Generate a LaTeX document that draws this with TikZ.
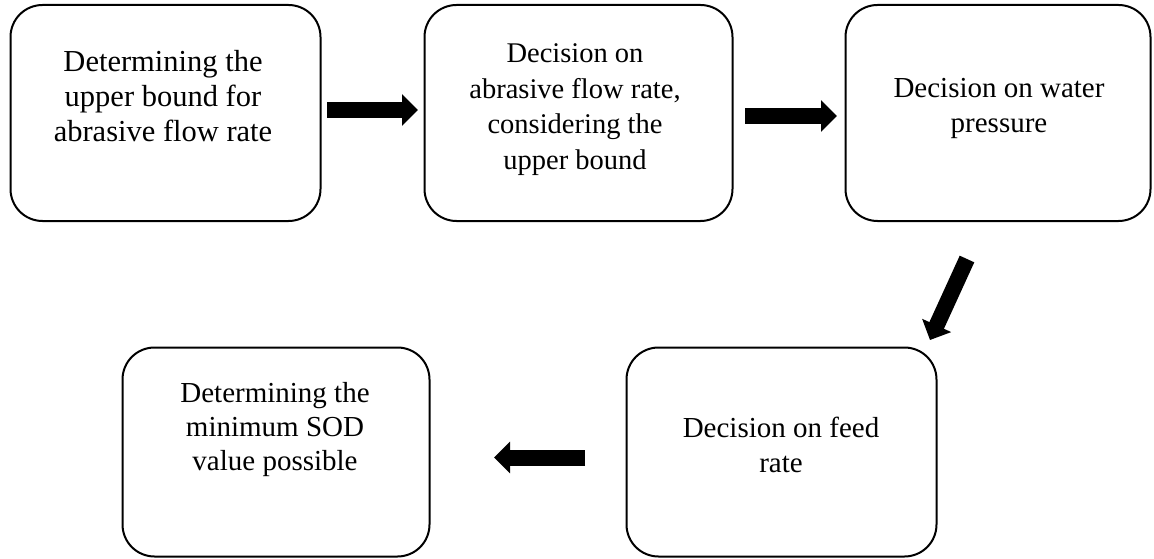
\documentclass[tikz,border=0pt]{standalone}
\usepackage{fontspec}
\setmainfont{Liberation Serif}
\usetikzlibrary{arrows.meta}
\begin{document}
\begin{tikzpicture}[x=1pt,y=-1pt,
  box/.style={draw=black, line width=2pt, rounded corners=32pt, inner sep=0pt},
  lbl/.style={align=center, inner sep=0pt, font=\fontsize{29pt}{35pt}\selectfont},
  bigarrow/.style={line width=16pt, draw=black, -{Triangle[length=16pt,width=31pt]}}]
\useasboundingbox (0,0) rectangle (1154,559);
% boxes
\node[box, minimum width=310pt, minimum height=216pt] (b1) at (165.5,113) {};
\node[box, minimum width=308pt, minimum height=216pt] (b2) at (578.5,113) {};
\node[box, minimum width=305pt, minimum height=216pt] (b3) at (998,113) {};
\node[box, minimum width=310pt, minimum height=209pt] (b4) at (781.5,452) {};
\node[box, minimum width=307pt, minimum height=209pt] (b5) at (276,452) {};
% texts
\node[lbl, font=\fontsize{30.5pt}{35pt}\selectfont] (t1) at (163,96) {Determining the\\upper bound for\\abrasive flow rate};
\node[lbl, font=\fontsize{28.5pt}{35.7pt}\selectfont] (t2) at (575,109.5) {Decision on\\abrasive flow rate,\\considering the\\upper bound};
\node[lbl] (t3) at (999,108.5) {Decision on water\\pressure};
\node[lbl] (t4) at (781,444.5) {Decision on feed\\rate};
\node[lbl, font=\fontsize{29pt}{34pt}\selectfont] (t5) at (275,429.5) {Determining the\\minimum SOD\\value possible};
% arrow end points
\coordinate (a1s) at (327,110);
\coordinate (a1e) at (418,110);
\coordinate (a2s) at (745,116);
\coordinate (a2e) at (837,116);
\coordinate (a3s) at (967,259);
\coordinate (a3e) at (930,340);
\coordinate (a4s) at (585,457.5);
\coordinate (a4e) at (494,457.5);
\draw[bigarrow] (a1s) -- (a1e);
\draw[bigarrow] (a2s) -- (a2e);
\draw[bigarrow] (a3s) -- (a3e);
\draw[bigarrow] (a4s) -- (a4e);
\end{tikzpicture}
\end{document}
